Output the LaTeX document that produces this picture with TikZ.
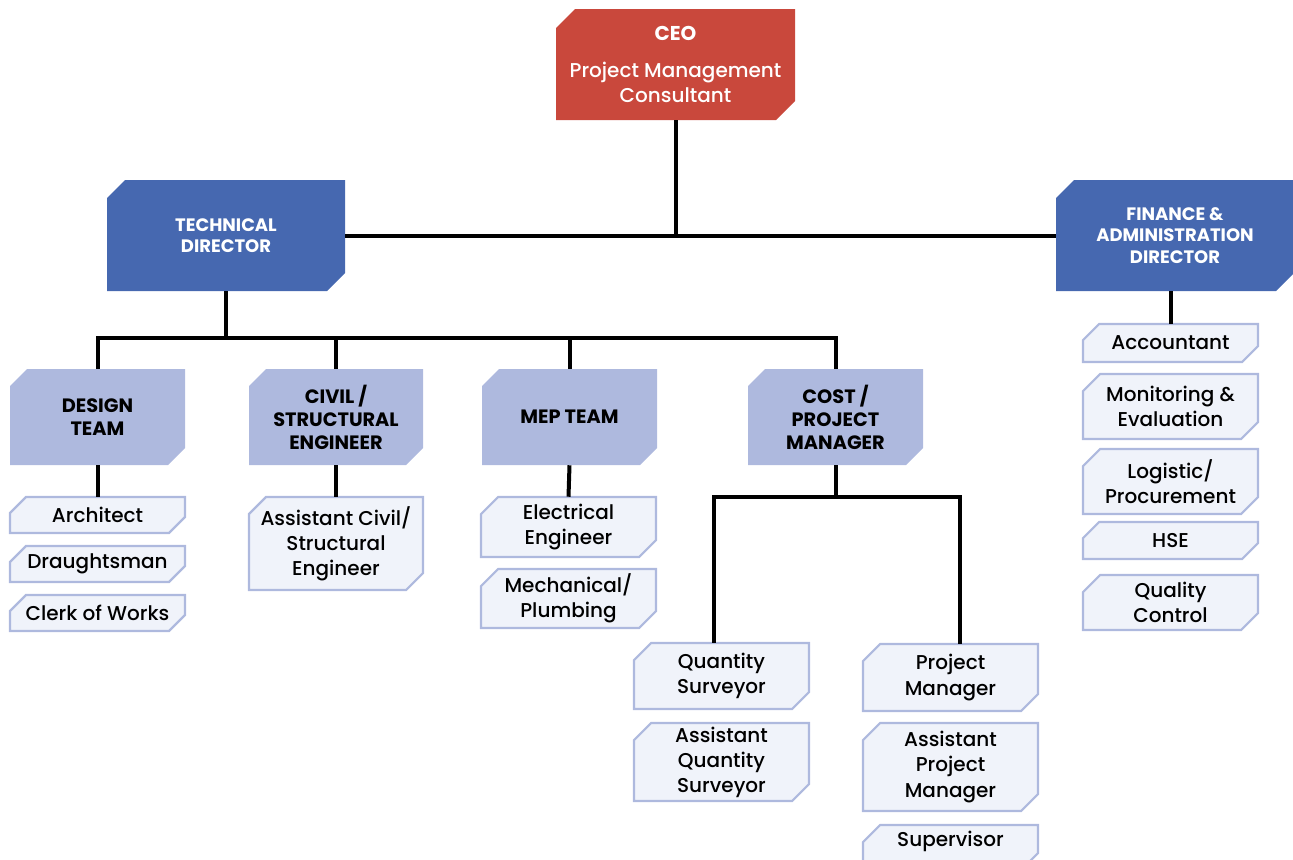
\documentclass[tikz,border=0pt]{standalone}
\usepackage{fontspec}
\IfFontExistsTF{Poppins Medium}
  {\setmainfont{Poppins}[UprightFont={* Medium}, BoldFont={* Bold}]}
  {\setmainfont{Poppins}}
\definecolor{ceored}{RGB}{201,72,60}
\definecolor{dirblue}{RGB}{70,104,176}
\definecolor{teamblue}{RGB}{174,185,222}
\definecolor{rolefill}{RGB}{240,243,250}
\newcommand{\cutbox}[8]{% name,x1,y1,x2,y2,cut,shape style,text style + text
  \path[#7] ({#2+#6},#3) -- (#4,#3) -- (#4,{#5-#6}) -- ({#4-#6},#5) -- (#2,#5) -- (#2,{#3+#6}) -- cycle;
  \node[#8, minimum width={(#4-#2)*0.75pt}, minimum height={(#5-#3)*0.75pt}] (#1) at ({(#2+#4)/2},{(#3+#5)/2})}
\begin{document}
\begin{tikzpicture}[x=0.75pt,y=-0.75pt,
  conn/.style={line width=3pt, line join=miter, draw=black},
  ceoshape/.style={fill=ceored},
  dirshape/.style={fill=dirblue},
  teamshape/.style={fill=teamblue},
  roleshape/.style={fill=rolefill, draw=teamblue, line width=1.6pt},
  basetxt/.style={inner sep=0pt, align=center},
  ceotxt/.style={basetxt, text=white, font=\fontsize{15}{19}\selectfont},
  dirtxt/.style={basetxt, text=white, font=\fontsize{13.5}{16.2}\selectfont\bfseries},
  teamtxt/.style={basetxt, text=black, font=\fontsize{14.5}{17.2}\selectfont\bfseries},
  roletxt/.style={basetxt, text=black, font=\fontsize{15}{18.8}\selectfont}]
\useasboundingbox (0,0) rectangle (1293,860);

\cutbox{ceo}{556}{9}{795}{120}{19}{ceoshape}{ceotxt}{\textbf{CEO}\\[9pt]Project Management\\Consultant};
\cutbox{td}{107}{180}{345}{291}{18}{dirshape}{dirtxt}{TECHNICAL\\DIRECTOR};
\cutbox{fad}{1056}{180}{1294}{291}{18}{dirshape}{dirtxt}{FINANCE \&\\ADMINISTRATION\\DIRECTOR};

\cutbox{design}{10}{369}{185}{465}{17}{teamshape}{teamtxt}{DESIGN\\TEAM};
\cutbox{civil}{249}{369}{423}{465}{17}{teamshape}{teamtxt}{CIVIL /\\STRUCTURAL\\ENGINEER};
\cutbox{mep}{482}{369}{657}{465}{17}{teamshape}{teamtxt}{MEP TEAM};
\cutbox{cost}{748}{369}{923}{465}{17}{teamshape}{teamtxt}{COST /\\PROJECT\\MANAGER};

\cutbox{arch}{10}{497}{185}{533}{16}{roleshape}{roletxt}{Architect};
\cutbox{draught}{10}{546}{185}{582}{16}{roleshape}{roletxt}{Draughtsman};
\cutbox{clerk}{10}{595}{185}{631}{16}{roleshape}{roletxt}{Clerk of Works};
\cutbox{acivil}{249}{497}{423}{590}{17}{roleshape}{roletxt}{Assistant Civil/\\Structural\\Engineer};
\cutbox{elec}{481}{497}{656}{557}{17}{roleshape}{roletxt}{Electrical\\Engineer};
\cutbox{mech}{481}{569}{656}{628}{17}{roleshape}{roletxt}{Mechanical/\\Plumbing};
\cutbox{qs}{634}{643}{809}{709}{17}{roleshape}{roletxt}{Quantity\\Surveyor};
\cutbox{aqs}{634}{723}{809}{801}{17}{roleshape}{roletxt}{Assistant\\Quantity\\Surveyor};
\cutbox{pm}{863}{644}{1038}{711}{17}{roleshape}{roletxt}{Project\\Manager};
\cutbox{apm}{863}{723}{1038}{811}{17}{roleshape}{roletxt}{Assistant\\Project\\Manager};
\path[roleshape] ({863+17},825) -- (1038,825) -- (1038,{870-17}) -- ({1038-17},870) -- (863,870) -- (863,{825+17}) -- cycle;
\node[roletxt] (sup) at (950.5,841) {Supervisor};
\cutbox{acct}{1083}{324}{1258}{362}{16}{roleshape}{roletxt}{Accountant};
\cutbox{me}{1083}{374}{1258}{439}{17}{roleshape}{roletxt}{Monitoring \&\\Evaluation};
\cutbox{log}{1083}{449}{1258}{514}{17}{roleshape}{roletxt}{Logistic/\\Procurement};
\cutbox{hse}{1083}{522}{1258}{559}{16}{roleshape}{roletxt}{HSE};
\cutbox{qc}{1083}{575}{1258}{630}{17}{roleshape}{roletxt}{Quality\\Control};

% connectors
\draw[conn] (td.east) -- (fad.west);
\draw[conn] (ceo.south) -- (ceo.south |- td.east);
\coordinate (tbus) at (226,338);
\draw[conn] (td.south) -- (tbus);
\draw[conn] (design.north) -- (design.north |- tbus) -- (cost.north |- tbus) -- (cost.north);
\draw[conn] (civil.north) -- (civil.north |- tbus);
\draw[conn] (mep.north) -- (mep.north |- tbus);
\draw[conn] (design.south) -- (arch.north);
\draw[conn] (civil.south) -- (acivil.north);
\draw[conn] (mep.south) -- (elec.north);
\coordinate (cl) at (714,497);
\coordinate (cr) at (960,497);
\draw[conn] (cost.south) -- (cost.south |- cl);
\draw[conn] (qs.north -| cl) -- (cl) -- (cr) -- (pm.north -| cr);
\draw[conn] (fad.south -| acct.north) -- (acct.north);
\end{tikzpicture}
\end{document}
